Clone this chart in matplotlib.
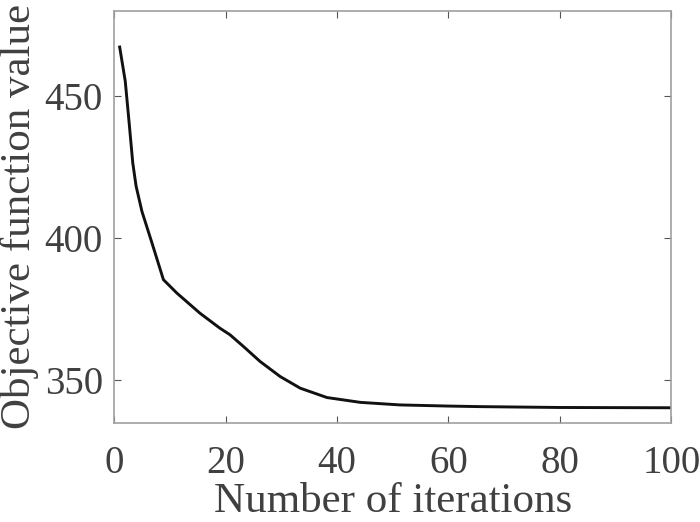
import numpy as np
import matplotlib.pyplot as plt

# convergence curve
iters = [1, 2, 2.7, 3.35, 3.95, 5, 6.8, 8.85, 11.25, 15.4, 19, 20.8, 23.2, 26.2,
         29.8, 33.4, 38.2, 44.2, 51.3, 60, 65.7, 80, 100]
obj = [467.3, 455.3, 440.6, 426.5, 418.3, 409.4, 398.3, 385.4, 380.7, 373.6, 368.3,
       366.0, 361.9, 356.6, 351.3, 347.2, 343.9, 342.2, 341.3, 340.9, 340.7, 340.4, 340.3]

xticks = [0, 20, 40, 60, 80, 100]
yticks = [350, 400, 450]

plt.rcParams['font.family'] = ['Liberation Serif', 'DejaVu Serif']
txt = '#404040'
edge = '#a0a0a0'

fig = plt.figure(figsize=(7, 5.22), dpi=100)
ax = fig.add_axes([0.163, 0.19, 0.796, 0.789])
ax.plot(iters, obj, color='#111111', lw=2.1)

ax.set_xlim(0, 100)
ax.set_ylim(335, 480)
ax.set_xticks(xticks)
ax.set_yticks(yticks)
ax.tick_params(direction='in', length=5, width=0.8, color='#555555',
               labelsize=28, labelcolor=txt, top=True, right=True)
ax.tick_params(axis='x', pad=16)
ax.tick_params(axis='y', pad=8)
for s in ax.spines.values():
    s.set_color(edge)
    s.set_linewidth(1.2)

ax.set_xlabel('Number of iterations', fontsize=31, color=txt, labelpad=0)
ax.set_ylabel('Objective function value', fontsize=31, color=txt, labelpad=4)

fig.savefig('out.png', dpi=100)
